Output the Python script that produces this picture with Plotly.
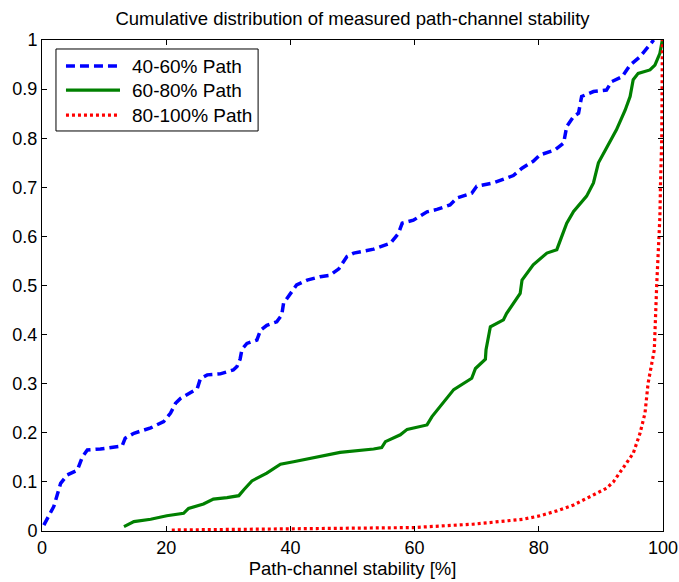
import plotly.graph_objects as go

# Empirical CDFs of path-channel stability (%) for three path-length groups
path_40_60_x = [0.3, 1.9, 3.0, 4.05, 5.7, 6.5, 7.3, 9.4, 12.9, 13.4, 14.8, 17.5, 19.6, 20.7,
                21.5, 22.3, 25.0, 25.5, 26.6, 28.7, 30.8, 31.4, 31.9, 32.2, 33.0, 34.6, 35.2,
                36.2, 37.8, 38.6, 38.9, 40.0, 41.0, 42.7, 44.8, 46.4, 47.8, 49.1, 50.2, 53.4,
                56.1, 57.4, 58.0, 59.8, 62.0, 63.6, 65.7, 66.8, 69.2, 70.0, 72.7, 75.9, 77.3,
                79.1, 80.2, 82.6, 84.0, 84.5, 85.6, 86.4, 86.9, 88.8, 90.9, 91.7, 93.4, 94.7,
                96.3, 98.5]
path_40_60_y = [0.012, 0.05, 0.097, 0.114, 0.124, 0.151, 0.165, 0.167, 0.173, 0.189, 0.199,
                0.21, 0.223, 0.24, 0.26, 0.27, 0.29, 0.31, 0.318, 0.32, 0.328, 0.335, 0.35,
                0.37, 0.382, 0.389, 0.409, 0.419, 0.426, 0.44, 0.464, 0.484, 0.501, 0.511,
                0.518, 0.521, 0.534, 0.559, 0.566, 0.574, 0.586, 0.606, 0.627, 0.633, 0.65,
                0.655, 0.664, 0.678, 0.688, 0.702, 0.709, 0.724, 0.739, 0.753, 0.766, 0.776,
                0.79, 0.824, 0.844, 0.851, 0.885, 0.895, 0.898, 0.915, 0.925, 0.949, 0.966,
                1.0]

path_60_80_x = [13.2, 14.8, 17.5, 20.1, 22.8, 23.6, 26.0, 27.6, 29.8, 31.7, 32.5, 33.8, 36.2,
                38.4, 40.5, 44.3, 48.0, 53.4, 54.7, 55.3, 57.7, 58.8, 62.0, 62.8, 64.1, 66.0,
                66.3, 69.2, 69.8, 71.4, 71.5, 72.2, 74.3, 74.8, 75.9, 77.0, 77.3, 79.1, 81.3,
                82.9, 83.7, 84.5, 85.6, 87.7, 88.8, 89.6, 90.9, 92.5, 93.9, 94.7, 95.2, 96.0,
                97.9, 98.7, 99.5, 99.9]
path_60_80_y = [0.009, 0.019, 0.024, 0.031, 0.036, 0.046, 0.055, 0.065, 0.068, 0.072, 0.084,
                0.102, 0.118, 0.136, 0.141, 0.15, 0.16, 0.167, 0.17, 0.182, 0.196, 0.207,
                0.216, 0.233, 0.253, 0.284, 0.288, 0.311, 0.331, 0.35, 0.369, 0.416, 0.43,
                0.443, 0.464, 0.484, 0.511, 0.542, 0.566, 0.573, 0.6, 0.627, 0.651, 0.682,
                0.709, 0.75, 0.78, 0.817, 0.857, 0.885, 0.919, 0.932, 0.939, 0.949, 0.973,
                1.0]

path_80_100_x = [20.9, 30.0, 40.0, 50.0, 59.8, 69.5, 77.5, 80.2, 82.9, 85.6, 88.3, 90.9, 92.0,
                 93.6, 95.2, 96.3, 97.1, 97.6, 98.2, 98.6, 99.0, 99.5, 99.6, 99.8, 99.9]
path_80_100_y = [0.002, 0.003, 0.004, 0.005, 0.007, 0.014, 0.024, 0.031, 0.041, 0.053, 0.07,
                 0.087, 0.1, 0.128, 0.158, 0.199, 0.24, 0.301, 0.342, 0.369, 0.505, 0.64,
                 0.708, 0.8, 1.0]

series_names = ["40-60% Path", "60-80% Path", "80-100% Path"]
x_ticks = [0, 20, 40, 60, 80, 100]
y_ticks = [0, 0.1, 0.2, 0.3, 0.4, 0.5, 0.6, 0.7, 0.8, 0.9, 1]
y_tick_text = ["0", "0.1", "0.2", "0.3", "0.4", "0.5", "0.6", "0.7", "0.8", "0.9", "1"]

FONT = "Liberation Sans, Arial, sans-serif"
line_styles = [
    dict(color="#0000FF", width=3.5, dash="9px,5px"),
    dict(color="#008000", width=3.2),
    dict(color="#FF0000", width=3.2, dash="3px,3px"),
]
series = [(path_40_60_x, path_40_60_y), (path_60_80_x, path_60_80_y),
          (path_80_100_x, path_80_100_y)]

fig = go.Figure()
for (xs, ys), name, style in zip(series, series_names, line_styles):
    fig.add_trace(go.Scatter(x=xs, y=ys, mode="lines", name=name, line=style,
                             showlegend=False))

# Boxed legend in the upper-left corner of the axes (paper coordinates)
leg_box = dict(x0=0.0225, x1=0.348, y0=0.8147, y1=0.9817)
leg_rows = [0.947, 0.898, 0.847]
leg_line_x = (0.0386, 0.1256)
leg_text_x = 0.1417
fig.add_shape(type="rect", xref="paper", yref="paper", **leg_box,
              line=dict(color="black", width=1), fillcolor="white", layer="above")
for row_y, name, style in zip(leg_rows, series_names, line_styles):
    fig.add_shape(type="line", xref="paper", yref="paper", x0=leg_line_x[0],
                  x1=leg_line_x[1], y0=row_y, y1=row_y, line=style, layer="above")
    fig.add_annotation(xref="paper", yref="paper", x=leg_text_x, y=row_y, text=name,
                       showarrow=False, xanchor="left", yanchor="middle",
                       font=dict(family=FONT, size=19, color="black"))

axis_common = dict(showgrid=False, zeroline=False, showline=True, linecolor="black",
                   linewidth=1, mirror="ticks", ticks="inside", ticklen=5, tickcolor="black",
                   automargin=False, tickfont=dict(family=FONT, size=18, color="black"))

fig.update_layout(
    width=679, height=582,
    margin=dict(l=42, r=16, t=40, b=51),
    paper_bgcolor="white", plot_bgcolor="white",
    font=dict(family=FONT, color="black"),
    title=dict(text="Cumulative distribution of measured path-channel stability",
               x=0.5, xref="paper", y=1 - 19 / 582, yref="container", yanchor="middle",
               font=dict(family=FONT, size=18.5, color="black")),
    xaxis=dict(range=[0, 100], tickvals=x_ticks, **axis_common,
               title=dict(text="Path-channel stability [%]", standoff=4,
                          font=dict(family=FONT, size=18.5, color="black"))),
    yaxis=dict(range=[0, 1], tickvals=y_ticks, ticktext=y_tick_text, **axis_common),
)

fig.write_html("out.html")
